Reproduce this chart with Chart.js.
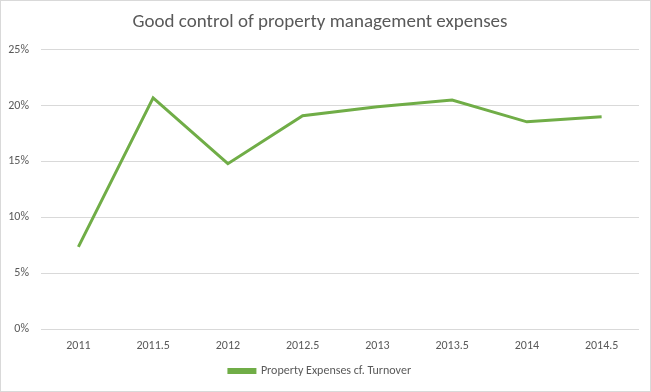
<!DOCTYPE html>
<html>
<head>
<meta charset="utf-8">
<script src="https://cdn.jsdelivr.net/npm/chart.js@4/dist/chart.umd.min.js"></script>
<style>
html,body{margin:0;padding:0;background:#fff;}
#wrap{position:absolute;left:0;top:0;width:649px;height:390px;border:1px solid #d9d9d9;}
canvas{display:block;}
</style>
</head>
<body>
<div id="wrap"><canvas id="c" width="649" height="390"></canvas></div>
<script>
const categories = ["2011","2011.5","2012","2012.5","2013","2013.5","2014","2014.5"];
const seriesName = "Property Expenses cf. Turnover";
const seriesValues = [0.0735, 0.207, 0.148, 0.191, 0.199, 0.205, 0.1855, 0.190];
const titleText = "Good control of property management expenses";

const FONT = "Carlito, 'Liberation Sans Narrow', 'Liberation Sans', sans-serif";
new Chart(document.getElementById('c'), {
  type: 'line',
  data: {
    labels: categories,
    datasets: [{
      label: seriesName,
      data: seriesValues,
      borderColor: '#70AD47',
      backgroundColor: '#70AD47',
      borderWidth: 3,
      pointRadius: 0,
      tension: 0,
      fill: false
    }]
  },
  options: {
    responsive: false,
    animation: false,
    layout: { padding: { left: 0, right: 11, top: 6, bottom: 4 } },
    plugins: {
      title: {
        display: true,
        text: titleText,
        color: '#595959',
        font: { family: FONT, size: 19, weight: 'normal' },
        padding: { top: 4, bottom: 16 }
      },
      legend: {
        position: 'bottom',
        labels: {
          color: '#595959',
          font: { family: FONT, size: 12 },
          boxWidth: 26,
          boxHeight: 3,
          padding: 5
        }
      },
      tooltip: { enabled: false }
    },
    scales: {
      x: {
        offset: true,
        afterFit: axis => { axis.height = 31; },
        grid: { display: false, drawTicks: false, offset: true },
        border: { display: false },
        ticks: { color: '#595959', font: { family: FONT, size: 12 }, padding: 10, maxRotation: 0 }
      },
      y: {
        min: 0, max: 0.25,
        afterFit: axis => { axis.width = 40; },
        grid: { color: '#d9d9d9', drawTicks: false },
        border: { display: false },
        ticks: {
          stepSize: 0.05,
          color: '#595959',
          font: { family: FONT, size: 12 },
          padding: 12,
          callback: v => Math.round(v * 100) + '%'
        }
      }
    }
  }
});
</script>
</body>
</html>
